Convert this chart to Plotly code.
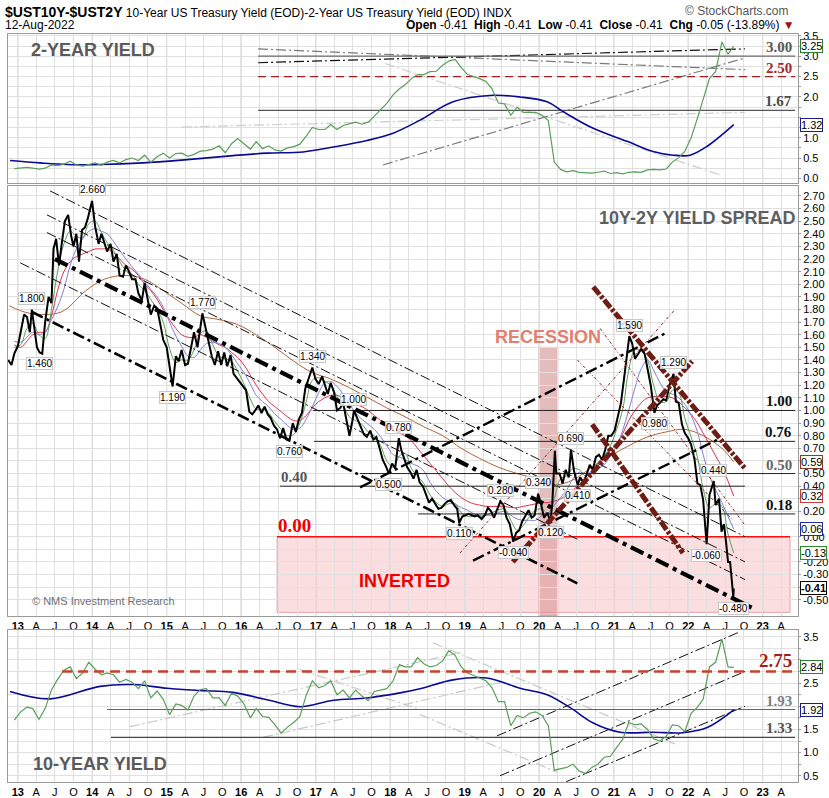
import plotly.graph_objects as go
import pandas as pd

# ====================== DATA ======================
# 10Y-2Y spread
spread_dates = ["2012-11-15","2012-12-01","2012-12-15","2013-01-01","2013-01-15","2013-02-01","2013-02-15","2013-03-01","2013-03-11","2013-03-25","2013-04-05","2013-04-18","2013-05-01","2013-05-15","2013-06-01","2013-06-15","2013-06-25","2013-07-08","2013-07-22","2013-08-05","2013-08-20","2013-09-05","2013-09-20","2013-10-01","2013-10-15","2013-10-28","2013-11-12","2013-11-26","2013-12-10","2013-12-31",
"2014-01-15","2014-02-01","2014-02-15","2014-03-01","2014-03-15","2014-04-01","2014-04-15","2014-05-01","2014-05-15","2014-06-01","2014-06-15","2014-07-01","2014-07-15","2014-08-01","2014-08-15","2014-09-01","2014-09-15","2014-10-01","2014-10-15","2014-11-01","2014-11-15","2014-12-01","2014-12-15",
"2015-01-01","2015-01-15","2015-01-30","2015-02-15","2015-03-01","2015-03-15","2015-04-01","2015-04-15","2015-05-01","2015-05-15","2015-06-01","2015-06-15","2015-06-25","2015-07-10","2015-07-25","2015-08-10","2015-08-25","2015-09-10","2015-09-25","2015-10-10","2015-10-25","2015-11-10","2015-11-25","2015-12-10","2015-12-25",
"2016-01-10","2016-01-25","2016-02-10","2016-02-25","2016-03-10","2016-03-25","2016-04-10","2016-04-25","2016-05-10","2016-05-25","2016-06-10","2016-06-25","2016-07-10","2016-07-25","2016-08-10","2016-08-25","2016-09-10","2016-09-25","2016-10-10","2016-10-25","2016-11-10","2016-11-25","2016-12-15","2016-12-30",
"2017-01-15","2017-02-01","2017-02-15","2017-03-01","2017-03-15","2017-04-01","2017-04-15","2017-05-01","2017-05-15","2017-06-01","2017-06-15","2017-07-01","2017-07-07","2017-07-25","2017-08-10","2017-08-25","2017-09-08","2017-09-25","2017-10-10","2017-10-25","2017-11-10","2017-11-25","2017-12-10","2017-12-25",
"2018-01-10","2018-01-25","2018-02-12","2018-02-25","2018-03-10","2018-03-25","2018-04-10","2018-04-25","2018-05-10","2018-05-25","2018-06-10","2018-06-25","2018-07-10","2018-07-25","2018-08-10","2018-08-25","2018-09-10","2018-09-25","2018-10-10","2018-10-25","2018-11-10","2018-11-25","2018-12-05","2018-12-20",
"2019-01-05","2019-01-20","2019-02-05","2019-02-20","2019-03-05","2019-03-25","2019-04-10","2019-04-25","2019-05-10","2019-05-25","2019-06-10","2019-06-25","2019-07-10","2019-07-25","2019-08-10","2019-08-27","2019-09-10","2019-09-25","2019-10-10","2019-10-25","2019-11-10","2019-11-25","2019-12-10","2019-12-27",
"2020-01-10","2020-01-25","2020-02-10","2020-02-25","2020-03-05","2020-03-18","2020-03-25","2020-04-10","2020-04-25","2020-05-10","2020-05-25","2020-06-05","2020-06-20","2020-07-08","2020-07-20","2020-08-05","2020-08-20","2020-09-05","2020-09-20","2020-10-05","2020-10-20","2020-11-05","2020-11-20","2020-12-05","2020-12-20",
"2021-01-05","2021-01-20","2021-02-05","2021-02-20","2021-03-05","2021-03-18","2021-04-01","2021-04-15","2021-05-01","2021-05-15","2021-06-01","2021-06-15","2021-07-01","2021-07-19","2021-08-01","2021-08-15","2021-09-01","2021-09-15","2021-10-01","2021-10-21","2021-11-01","2021-11-15","2021-12-01","2021-12-15",
"2022-01-01","2022-01-15","2022-02-01","2022-02-15","2022-03-01","2022-03-15","2022-04-01","2022-04-15","2022-05-06","2022-05-15","2022-06-01","2022-06-13","2022-06-25","2022-07-05","2022-07-15","2022-07-25","2022-08-05","2022-08-10","2022-08-12"]
spread_vals = [1.40,1.36,1.45,1.51,1.62,1.76,1.74,1.62,1.80,1.62,1.50,1.46,1.45,1.70,1.90,1.85,2.28,2.36,2.15,2.33,2.50,2.55,2.38,2.30,2.40,2.18,2.43,2.45,2.52,2.66,
2.46,2.32,2.40,2.33,2.26,2.32,2.18,2.24,2.07,2.06,2.15,2.10,2.04,2.04,1.93,1.87,2.01,1.87,1.76,1.83,1.81,1.68,1.56,
1.50,1.35,1.19,1.43,1.39,1.48,1.36,1.37,1.52,1.62,1.50,1.66,1.77,1.66,1.56,1.43,1.36,1.47,1.36,1.46,1.35,1.44,1.29,1.26,1.23,
1.19,1.16,0.99,0.97,1.00,1.04,0.98,1.03,0.97,0.94,0.88,0.85,0.78,0.86,0.77,0.76,0.90,0.83,0.93,0.98,1.17,1.25,1.34,1.25,
1.21,1.27,1.20,1.13,1.22,1.14,1.00,1.02,1.06,0.91,0.80,0.93,1.00,0.93,0.86,0.81,0.79,0.84,0.77,0.79,0.70,0.61,0.56,0.50,
0.58,0.54,0.78,0.68,0.62,0.55,0.51,0.46,0.53,0.43,0.40,0.34,0.27,0.30,0.26,0.22,0.23,0.26,0.28,0.29,0.25,0.22,0.11,0.16,
0.17,0.18,0.17,0.16,0.17,0.14,0.17,0.23,0.20,0.15,0.22,0.28,0.25,0.15,0.10,-0.04,0.03,0.05,0.12,0.16,0.21,0.15,0.17,0.34,
0.26,0.15,0.19,0.12,0.25,0.68,0.50,0.50,0.42,0.53,0.47,0.69,0.52,0.41,0.47,0.43,0.49,0.57,0.53,0.63,0.65,0.61,0.69,0.80,0.80,
0.84,0.95,1.06,1.25,1.41,1.59,1.53,1.41,1.45,1.49,1.45,1.32,1.20,0.98,1.04,1.06,1.09,1.08,1.20,1.29,1.07,1.06,0.89,0.82,
0.78,0.73,0.61,0.42,0.41,0.29,-0.06,0.33,0.44,0.25,0.30,0.04,0.10,-0.04,-0.20,-0.20,-0.37,-0.48,-0.41]

# monthly observation dates (mid-month) + last session
month_dates = list((pd.date_range("2012-12-01", periods=116, freq="MS") + pd.Timedelta(days=14)).strftime("%Y-%m-%d")) + ["2022-08-12"]

# spread moving averages
ma_green = [1.50,
1.52,1.65,1.69,1.60,1.57,1.80,2.10,2.32,2.42,2.38,2.37,2.48,
2.50,2.41,2.33,2.27,2.18,2.11,2.08,2.00,1.95,1.88,1.80,1.70,
1.49,1.38,1.40,1.40,1.48,1.61,1.63,1.52,1.43,1.41,1.39,1.31,
1.21,1.09,1.01,1.01,0.98,0.91,0.85,0.80,0.81,0.90,1.07,1.24,
1.26,1.23,1.20,1.11,1.04,0.95,0.92,0.89,0.83,0.80,0.72,0.60,
0.55,0.64,0.66,0.54,0.48,0.42,0.33,0.27,0.24,0.26,0.26,0.19,
0.16,0.16,0.16,0.17,0.19,0.21,0.22,0.13,0.05,0.09,0.16,0.21,
0.22,0.18,0.30,0.46,0.48,0.54,0.53,0.48,0.51,0.59,0.64,0.72,
0.85,1.02,1.32,1.48,1.47,1.40,1.20,1.07,1.07,1.16,1.14,0.94,
0.79,0.63,0.38,0.23,0.26,0.24,0.02,-0.13]
ma_blue = [1.55,
1.54,1.58,1.62,1.60,1.62,1.72,1.82,1.96,2.15,2.28,2.36,2.42,
2.44,2.42,2.40,2.34,2.27,2.20,2.14,2.08,2.02,1.96,1.90,1.82,
1.70,1.59,1.51,1.43,1.42,1.48,1.53,1.54,1.53,1.50,1.44,1.37,
1.30,1.21,1.12,1.07,1.03,0.97,0.93,0.88,0.85,0.86,0.93,1.03,
1.14,1.22,1.23,1.19,1.13,1.05,0.98,0.93,0.89,0.85,0.79,0.72,
0.65,0.63,0.61,0.58,0.56,0.52,0.43,0.36,0.31,0.28,0.26,0.23,
0.21,0.18,0.17,0.17,0.17,0.19,0.20,0.17,0.14,0.13,0.13,0.13,
0.17,0.19,0.25,0.31,0.37,0.46,0.51,0.50,0.51,0.54,0.57,0.64,
0.72,0.85,1.00,1.18,1.33,1.40,1.32,1.22,1.15,1.13,1.10,1.05,
0.96,0.83,0.65,0.48,0.37,0.27,0.16,0.06]
ma_red = [1.52,
1.50,1.55,1.60,1.62,1.62,1.75,1.95,2.10,2.18,2.22,2.24,2.26,
2.28,2.28,2.28,2.25,2.20,2.15,2.12,2.07,2.00,1.95,1.88,1.80,
1.72,1.65,1.60,1.58,1.58,1.60,1.58,1.55,1.52,1.50,1.46,1.42,
1.36,1.28,1.20,1.13,1.07,1.03,0.99,0.95,0.92,0.92,0.96,1.02,
1.07,1.10,1.12,1.12,1.10,1.07,1.05,1.03,1.00,0.96,0.92,0.88,
0.84,0.82,0.80,0.76,0.70,0.64,0.58,0.52,0.46,0.40,0.35,0.31,
0.28,0.26,0.25,0.24,0.24,0.24,0.24,0.23,0.23,0.24,0.25,0.26,
0.27,0.27,0.28,0.30,0.33,0.37,0.41,0.45,0.50,0.56,0.62,0.68,
0.74,0.82,0.92,1.00,1.06,1.10,1.11,1.11,1.11,1.10,1.07,1.02,
0.97,0.90,0.82,0.73,0.64,0.55,0.44,0.32]
brown_dates = ["2012-11-20","2013-03-01","2013-08-01","2013-12-01","2014-03-01","2014-06-15","2014-09-15","2014-12-15","2015-03-15","2015-06-15","2015-09-15","2015-12-15","2016-03-15","2016-06-15","2016-09-15","2016-12-15","2017-03-15","2017-06-15","2017-09-15","2017-12-15","2018-03-15","2018-06-15","2018-09-15","2018-12-15","2019-03-15","2019-06-15","2019-09-15","2019-12-15","2020-03-15","2020-06-15","2020-09-15","2020-12-15","2021-03-15","2021-06-15","2021-09-15","2021-12-15","2022-03-15","2022-06-15","2022-08-12"]
ma_brown = [1.83,1.77,1.78,1.95,2.04,2.07,2.04,1.95,1.85,1.75,1.72,1.68,1.60,1.50,1.39,1.30,1.25,1.18,1.10,1.02,0.95,0.87,0.80,0.70,0.62,0.55,0.50,0.46,0.41,0.45,0.55,0.64,0.72,0.79,0.83,0.85,0.80,0.70,0.59]

# 2-year yield (monthly)
y2_vals = [0.24,
0.26,0.27,0.25,0.23,0.25,0.33,0.31,0.35,0.42,0.33,0.30,0.34,
0.38,0.32,0.40,0.44,0.38,0.46,0.50,0.44,0.57,0.40,0.53,0.62,
0.50,0.61,0.62,0.54,0.59,0.67,0.68,0.72,0.80,0.63,0.85,0.98,
0.86,0.72,0.90,0.73,0.80,0.70,0.67,0.75,0.78,0.84,1.04,1.25,
1.20,1.20,1.32,1.20,1.30,1.35,1.38,1.33,1.38,1.53,1.70,1.84,
2.05,2.20,2.30,2.45,2.55,2.55,2.62,2.63,2.78,2.88,2.92,2.72,
2.55,2.50,2.45,2.38,2.20,1.85,1.83,1.55,1.75,1.62,1.62,1.62,
1.55,1.42,0.40,0.22,0.16,0.19,0.15,0.14,0.13,0.15,0.18,0.12,
0.14,0.11,0.15,0.16,0.15,0.21,0.22,0.21,0.23,0.40,0.51,0.66,
1.00,1.48,1.95,2.45,2.62,3.35,3.05,3.25]
y2_ma_dates = ["2012-11-24","2013-04-20","2013-08-30","2014-02-08","2014-09-07","2015-04-10","2015-11-22","2016-05-07","2016-10-31","2017-03-28","2017-09-09","2018-01-15","2018-05-27","2018-11-05","2019-05-17","2019-09-29","2020-02-09","2020-04-27","2020-09-22","2021-03-07","2021-07-12","2021-10-19","2022-01-10","2022-04-04","2022-08-12"]
y2_ma_vals = [0.44,0.38,0.34,0.34,0.38,0.46,0.56,0.62,0.65,0.77,0.93,1.11,1.43,1.88,2.04,2.00,1.88,1.64,1.23,0.91,0.66,0.57,0.57,0.79,1.32]

# 10-year yield (monthly)
y10_vals = [1.70,
1.88,1.98,1.95,1.72,1.95,2.35,2.58,2.78,2.85,2.60,2.72,2.95,
2.80,2.68,2.72,2.68,2.52,2.58,2.52,2.38,2.55,2.18,2.33,2.15,
1.82,2.05,2.02,1.92,2.22,2.36,2.38,2.18,2.18,2.02,2.28,2.22,
2.05,1.75,1.95,1.78,1.76,1.60,1.42,1.55,1.65,1.78,2.24,2.55,
2.40,2.45,2.55,2.25,2.35,2.18,2.35,2.22,2.12,2.32,2.35,2.38,
2.55,2.90,2.85,2.85,3.05,2.92,2.85,2.88,2.98,3.20,3.10,2.85,
2.72,2.66,2.60,2.55,2.40,2.10,2.10,1.58,1.80,1.75,1.85,1.88,
1.80,1.58,0.62,0.65,0.68,0.75,0.60,0.55,0.68,0.75,0.90,0.92,
1.10,1.30,1.65,1.60,1.62,1.50,1.30,1.25,1.35,1.60,1.58,1.45,
1.85,1.98,2.15,2.85,2.95,3.45,2.85,2.84]
y10_ma_dates = ["2012-11-24","2013-06-08","2014-02-08","2014-07-19","2015-01-03","2015-06-13","2015-11-22","2016-05-07","2016-10-16","2017-03-28","2017-09-09","2018-02-18","2018-05-27","2018-11-05","2019-04-20","2019-09-29","2020-02-09","2020-06-01","2020-09-22","2021-02-01","2021-07-12","2021-12-06","2022-04-04","2022-08-12"]
y10_ma_vals = [2.32,2.16,2.43,2.47,2.39,2.34,2.30,2.14,1.99,2.13,2.18,2.29,2.38,2.57,2.61,2.39,2.25,1.97,1.64,1.44,1.44,1.43,1.54,1.92]

# trendlines: (start date, start value, end date, end value)
spread_center_line = [("2013-07-02", 2.20, "2022-11-23", -0.575)]
spread_lower_channel = [("2013-03-12", 1.78, "2020-07-06", -0.37)]
spread_thin_channel = [("2013-06-08", 2.74, "2022-10-06", 0.00),
                       ("2013-05-24", 2.55, "2022-10-06", -0.20),
                       ("2013-05-24", 2.41, "2022-10-06", -0.34),
                       ("2013-01-13", 2.17, "2020-07-06", -0.02)]
spread_up_thick = [("2017-08-06", 0.39, "2021-09-09", 1.61),
                   ("2019-02-11", -0.19, "2022-06-07", 0.78)]
spread_brown_thick = [("2020-09-22", 1.98, "2022-10-06", 0.54),
                      ("2019-08-25", -0.20, "2022-01-20", 1.39),
                      ("2020-09-17", 0.89, "2021-12-06", -0.13)]
spread_brown_thin = [("2020-10-26", 1.65, "2022-10-06", 0.09),
                     ("2018-12-09", -0.13, "2021-10-28", 1.80),
                     ("2020-07-06", 1.40, "2022-08-08", 0.13)]
spread_levels = [("2016-12-18", 1.00, "2023-06-09"), ("2016-12-23", 0.755, "2023-06-09"),
                 ("2017-08-06", 0.50, "2023-06-09"), ("2016-07-09", 0.40, "2022-10-06"),
                 ("2018-05-17", 0.18, "2023-06-09")]
zero_line = ("2016-06-25", 0.00, "2023-05-15")
inverted_zone = ("2016-06-25", "2023-05-15", -0.60, 0.00)
recession = ("2020-01-01", "2020-04-01", 1.50)

top_dark_lines = [("2016-03-24", 2.84, "2022-10-06", 3.18)]
top_gray_lines = [("2016-03-24", 3.18, "2022-10-06", 2.67), ("2017-11-26", 0.33, "2022-10-06", 2.96)]
top_light_lines = [("2017-12-06", 2.82, "2022-06-04", 0.09), ("2015-03-17", 1.26, "2022-10-06", 1.62)]
top_levels = [("2016-03-24", 3.00, "2023-06-09"), ("2016-03-24", 2.50, "2023-06-09"), ("2016-03-24", 1.67, "2023-06-09")]

bot_dark_lines = [("2019-06-08", 1.36, "2022-09-12", 3.61), ("2019-06-23", 0.50, "2022-10-06", 2.75),
                  ("2019-12-02", 0.07, "2022-10-06", 2.00)]
bot_light_lines = [("2014-07-05", 1.56, "2018-12-24", 3.17), ("2016-04-17", 1.33, "2019-07-08", 2.53),
                   ("2018-07-30", 3.37, "2021-11-12", 1.16), ("2018-05-27", 1.82, "2020-03-28", 0.58),
                   ("2016-10-16", 2.79, "2018-05-27", 1.93)]
bot_levels = [("2013-08-06", 2.75, "2023-06-09"), ("2014-03-14", 1.93, "2023-06-09"), ("2014-04-03", 1.33, "2023-06-09")]

# pivot labels on spread
pivot_dates = ["2013-12-31","2013-03-11","2013-04-18","2015-01-30","2015-06-25","2016-12-15","2017-07-07","2016-08-25","2018-02-12","2017-12-25","2018-12-05","2019-06-25","2019-12-27","2019-08-27","2020-02-25","2020-06-05","2020-07-08","2021-03-18","2021-10-21","2021-07-19","2022-05-06","2022-04-01","2022-08-10"]
pivot_vals = [2.66,1.80,1.46,1.19,1.77,1.34,1.00,0.76,0.78,0.50,0.11,0.28,0.34,-0.04,0.12,0.69,0.41,1.59,1.29,0.98,0.44,-0.06,-0.48]
pivot_up = [1,1,0,0,1,1,1,0,1,0,0,1,1,0,0,1,0,1,1,0,1,0,0]

# last values shown in tags
top_tags = [(3.25, "#2e7d32"), (1.32, "#1a1a8c")]
spread_tags = [(0.59, "#8b3a2a"), (0.32, "#c83c3c"), (0.06, "#2a2aa0"), (-0.13, "#2e8b2e"), (-0.41, "#000000")]
bot_tags = [(2.84, "#2e7d32"), (1.92, "#1a1a8c")]

# axis tick labels hidden behind the value tags
top_hidden = [1.5]
spread_hidden = [0.6, 0.3, 0.1, -0.1, -0.4]
bot_hidden = [2.0, 3.0]

# ====================== FIGURE ======================
W, H = 829, 798
FONT = "Liberation Sans, Arial, sans-serif"
SERIF = "Liberation Serif, Times New Roman, serif"
def px(x): return x / W
def py(y): return 1 - y / H

xdom = [px(8), px(798)]
xrange_ = ["2012-11-14", "2023-06-23"]

qt_vals, qt_text = [], []
for yr in range(2013, 2024):
    for m, lab in [(1, "<b>%02d</b>" % (yr % 100)), (4, "A"), (7, "J"), (10, "O")]:
        qt_vals.append("%d-%02d-01" % (yr, m))
        qt_text.append(lab)

fig = go.Figure()

def line(xa, ya, pts, color, width, dash="solid", opacity=1.0):
    for p in pts:
        fig.add_trace(go.Scatter(x=[p[0], p[2]], y=[p[1], p[3]], mode="lines",
                                 line=dict(color=color, width=width, dash=dash), opacity=opacity,
                                 xaxis=xa, yaxis=ya, hoverinfo="skip", showlegend=False))

def hlevel(xa, ya, lv, color, width, dash="solid"):
    for (d0, v, d1) in lv:
        fig.add_trace(go.Scatter(x=[d0, d1], y=[v, v], mode="lines",
                                 line=dict(color=color, width=width, dash=dash),
                                 xaxis=xa, yaxis=ya, hoverinfo="skip", showlegend=False))

DD = "10px,3px,2px,3px"

# ---------- top panel (2-year) ----------
line("x", "y", top_light_lines, "#cdcdcd", 1.2, DD)
line("x", "y", top_gray_lines, "#7a7a7a", 1.2, DD)
line("x", "y", top_dark_lines, "#111111", 1.2, DD)
hlevel("x", "y", [top_levels[0]], "#6a6a6a", 1.2)
hlevel("x", "y", [top_levels[1]], "#a01e1e", 1.2, "8px,5px")
hlevel("x", "y", [top_levels[2]], "#555555", 1.2)
fig.add_trace(go.Scatter(x=y2_ma_dates, y=y2_ma_vals, mode="lines", line=dict(color="#0a0a96", width=1.6, shape="spline"),
                         xaxis="x", yaxis="y", hoverinfo="skip", showlegend=False))
fig.add_trace(go.Scatter(x=month_dates, y=y2_vals, mode="lines", line=dict(color="#5a9e5a", width=1.2),
                         xaxis="x", yaxis="y", hoverinfo="skip", showlegend=False))

# ---------- middle panel (spread) ----------
fig.add_trace(go.Scatter(x=brown_dates, y=ma_brown, mode="lines", line=dict(color="#b0643a", width=1, shape="spline"),
                         xaxis="x2", yaxis="y2", hoverinfo="skip", showlegend=False))
fig.add_trace(go.Scatter(x=month_dates, y=ma_red, mode="lines", line=dict(color="#e0304a", width=1, shape="spline"),
                         xaxis="x2", yaxis="y2", hoverinfo="skip", showlegend=False))
fig.add_trace(go.Scatter(x=month_dates, y=ma_blue, mode="lines", line=dict(color="#8080d8", width=1, shape="spline"),
                         xaxis="x2", yaxis="y2", hoverinfo="skip", showlegend=False))
fig.add_trace(go.Scatter(x=month_dates, y=ma_green, mode="lines", line=dict(color="#5aa05a", width=1, shape="spline"),
                         xaxis="x2", yaxis="y2", hoverinfo="skip", showlegend=False))
hlevel("x2", "y2", spread_levels, "#222222", 1)
fig.add_trace(go.Scatter(x=[zero_line[0], zero_line[2]], y=[zero_line[1], zero_line[1]], mode="lines",
                         line=dict(color="#ff1010", width=1.5), xaxis="x2", yaxis="y2", hoverinfo="skip", showlegend=False))
fig.add_trace(go.Scatter(x=spread_dates, y=spread_vals, mode="lines", line=dict(color="#000000", width=2),
                         xaxis="x2", yaxis="y2", hoverinfo="skip", showlegend=False))
line("x2", "y2", spread_thin_channel, "#111111", 1, DD)
line("x2", "y2", spread_lower_channel, "#000000", 2.6, "12px,4px,3px,4px")
line("x2", "y2", spread_center_line, "#000000", 4.2, "14px,5px,4px,5px")
line("x2", "y2", spread_up_thick, "#000000", 2.4, "12px,4px,3px,4px")
line("x2", "y2", spread_brown_thin, "#8b2f22", 1, "3px,2px,1px,2px")
line("x2", "y2", spread_brown_thick, "#6e1c14", 5, "10px,2px,3px,2px")

# ---------- bottom panel (10-year) ----------
line("x3", "y3", bot_light_lines, "#c8c8c8", 1.2, DD)
line("x3", "y3", bot_dark_lines, "#111111", 1, DD)
hlevel("x3", "y3", [bot_levels[1]], "#666666", 1.2)
hlevel("x3", "y3", [bot_levels[2]], "#444444", 1.2)
fig.add_trace(go.Scatter(x=y10_ma_dates, y=y10_ma_vals, mode="lines", line=dict(color="#0a0a96", width=1.6, shape="spline"),
                         xaxis="x3", yaxis="y3", hoverinfo="skip", showlegend=False))
fig.add_trace(go.Scatter(x=month_dates, y=y10_vals, mode="lines", line=dict(color="#5a9e5a", width=1.2),
                         xaxis="x3", yaxis="y3", hoverinfo="skip", showlegend=False))
hlevel("x3", "y3", [bot_levels[0]], "#c8402a", 2.6, "10px,6px")

# ---------- shapes ----------
shapes = []
shapes.append(dict(type="rect", xref="x2", yref="y2", x0=inverted_zone[0], x1=inverted_zone[1],
                   y0=inverted_zone[2], y1=inverted_zone[3], fillcolor="rgba(240,160,165,0.35)",
                   line=dict(color="rgba(225,140,145,0.8)", width=1), layer="below"))
shapes.append(dict(type="rect", xref="x2", yref="y2 domain", x0=recession[0], x1=recession[1],
                   y0=0, y1=(recession[2] + 0.63) / (2.78 + 0.63), fillcolor="rgba(185,80,80,0.38)",
                   line=dict(color="rgba(170,70,70,0.5)", width=1), layer="below"))
for yr in range(2013, 2024):
    for xr, yr_ref in [("x", "y domain"), ("x2", "y2 domain"), ("x3", "y3 domain")]:
        shapes.append(dict(type="line", xref=xr, yref=yr_ref, x0="%d-01-01" % yr, x1="%d-01-01" % yr,
                           y0=0, y1=1, line=dict(color="#bdbdbd", width=1), layer="below"))

# ---------- axes ----------
def xax(domain_anchor, show):
    return dict(type="date", range=xrange_, domain=xdom, anchor=domain_anchor, tickmode="array",
                tickvals=qt_vals, ticktext=qt_text, showticklabels=show, showgrid=True, gridcolor="#e0e0e0",
                showline=True, linecolor="#9a9a9a", mirror=True, ticks="", zeroline=False,
                tickfont=dict(size=11, color="#000", family=FONT), fixedrange=True)

def yax(domain, rng, vals, texts, anchor):
    return dict(domain=domain, range=rng, side="right", anchor=anchor, tickmode="array", tickvals=vals,
                ticktext=texts, showgrid=True, gridcolor="#e0e0e0", showline=True, linecolor="#9a9a9a",
                mirror=True, ticks="outside", ticklen=2, tickcolor="#9a9a9a", zeroline=False,
                tickfont=dict(size=11, family=FONT, color="#000"), fixedrange=True)

def hidden(v, lst):
    return any(abs(v - h) < 1e-6 for h in lst)

top_vals = [i / 4 for i in range(0, 15)]
top_text = ["%.1f" % v if (i % 2 == 0 and not hidden(v, top_hidden)) else "" for i, v in enumerate(top_vals)]
sp_vals = [i / 10 for i in range(-5, 28)]
sp_text = ["" if hidden(v, spread_hidden) else "%.2f" % v for v in sp_vals]
bot_vals = [i / 4 for i in range(2, 15)]
bot_text = ["%.1f" % v if (i % 2 == 0 and not hidden(v, bot_hidden)) else "" for i, v in enumerate(bot_vals)]

# ---------- annotations ----------
ann = []
def txt(x, y, text, size, color="#000", xanchor="left", yanchor="middle", family=FONT, **kw):
    d = dict(x=x, y=y, xref="paper", yref="paper", text=text, showarrow=False, xanchor=xanchor,
             yanchor=yanchor, font=dict(size=size, color=color, family=family))
    d.update(kw)
    ann.append(d)

txt(px(3), py(8), "<span style='font-size:14px'><b>$UST10Y-$UST2Y</b></span> 10-Year US Treasury Yield (EOD)-2-Year US Treasury Yield (EOD) INDX", 12)
txt(px(3), py(21), "12-Aug-2022", 12)
txt(px(791), py(7), "© StockCharts.com", 12, "#555", xanchor="right")
txt(px(797), py(21), "<b>Open</b> -0.41  <b>High</b> -0.41  <b>Low</b> -0.41  <b>Close</b> -0.41  <b>Chg</b> -0.05 (-13.89%) <span style='color:#a01010'>▼</span>", 12, xanchor="right")
txt(px(29), py(46), "<b>2-YEAR YIELD</b>", 18, "#5a5a5a")
txt(px(797), py(215), "<b>10Y-2Y YIELD SPREAD</b>", 18, "#5f5f5f", xanchor="right")
txt(px(31), py(765), "<b>10-YEAR YIELD</b>", 18, "#5a5a5a")
txt(px(548), py(335), "<b>RECESSION</b>", 18, "#e08070", xanchor="center")
txt(px(357), py(581), "<b>INVERTED</b>", 18, "#ee0000")
txt(px(30), py(601), "© NMS Investment Research", 11, "#707070")

def lvl_label(yref, v, text, color, size=15, x=None, xref="paper", xanchor="right"):
    ann.append(dict(x=x if x is not None else px(793), y=v, xref=xref, yref=yref, text="<b>%s</b>" % text,
                    showarrow=False, xanchor=xanchor, yanchor="bottom", borderpad=0,
                    font=dict(size=size, color=color, family=SERIF)))

lvl_label("y", 3.00, "3.00", "#5a5a5a")
lvl_label("y", 2.50, "2.50", "#a52a2a")
lvl_label("y", 1.67, "1.67", "#4a4a4a")
lvl_label("y2", 1.00, "1.00", "#111")
lvl_label("y2", 0.755, "0.76", "#111")
lvl_label("y2", 0.50, "0.50", "#666")
lvl_label("y2", 0.18, "0.18", "#111")
lvl_label("y2", 0.40, "0.40", "#555", x=spread_levels[3][0], xref="x2", xanchor="left")
lvl_label("y2", 0.00, "0.00", "#ee0000", size=19, x=zero_line[0], xref="x2", xanchor="left")
lvl_label("y3", 2.75, "2.75", "#a01e1e", size=19)
lvl_label("y3", 1.93, "1.93", "#808080")
lvl_label("y3", 1.33, "1.33", "#555")

for d, v, up in zip(pivot_dates, pivot_vals, pivot_up):
    ann.append(dict(x=d, y=v, xref="x2", yref="y2", text="%.3f" % v, showarrow=False,
                    yshift=11 if up else -11, font=dict(size=10, color="#000", family=FONT),
                    bgcolor="rgba(255,255,255,0.85)", bordercolor="#c8c8c8", borderwidth=1, borderpad=0))

def tags(yref, lst):
    for v, c in lst:
        bold = c == "#000000"
        ann.append(dict(x=px(800), y=v, xref="paper", yref=yref, text=("<b>%.2f</b>" if bold else "%.2f") % v,
                        showarrow=False, xanchor="left", yanchor="middle",
                        font=dict(size=11, color="#000", family=FONT), bgcolor="white",
                        bordercolor=c, borderwidth=1, borderpad=0))
tags("y", top_tags)
tags("y2", spread_tags)
tags("y3", bot_tags)

fig.update_layout(
    width=W, height=H, autosize=False,
    margin=dict(l=0, r=0, t=0, b=0),
    paper_bgcolor="white", plot_bgcolor="white",
    showlegend=False,
    xaxis=xax("y", False),
    xaxis2=xax("y2", True),
    xaxis3=xax("y3", True),
    yaxis=yax([py(180), py(30)], [-0.11, 3.55], top_vals, top_text, "x"),
    yaxis2=yax([py(616), py(183)], [-0.63, 2.78], sp_vals, sp_text, "x2"),
    yaxis3=yax([py(783), py(630)], [0.363, 3.646], bot_vals, bot_text, "x3"),
    shapes=shapes,
    annotations=ann,
    font=dict(family=FONT),
)

fig.write_html("out.html")
